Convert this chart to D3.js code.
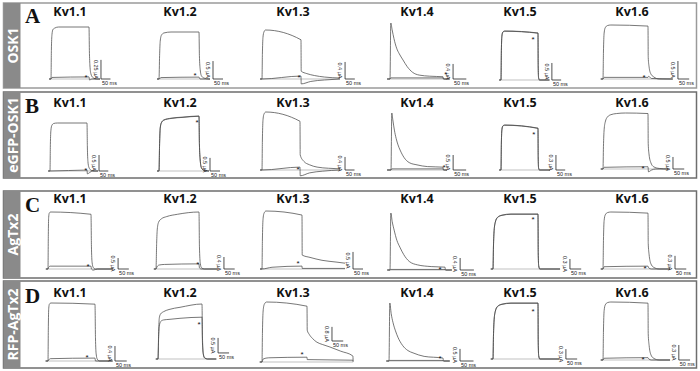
<!DOCTYPE html>
<html>
<head>
<meta charset="utf-8">
<script src="https://cdn.jsdelivr.net/npm/d3@7"></script>
<style>
  body { margin: 0; background: #fff; }
  svg { display: block; }
</style>
</head>
<body>
<svg id="chart" width="700" height="371"></svg>
<script>
// toxins (rows) and channels (columns)
const toxins = ["OSK1", "eGFP-OSK1", "AgTx2", "RFP-AgTx2"];
const letters = ["A", "B", "C", "D"];
const channels = ["Kv1.1", "Kv1.2", "Kv1.3", "Kv1.4", "Kv1.5", "Kv1.6"];

// peak control current (µA) per panel
const peakUA = [
  [0.68, 1.31, 1.15, 1.49, 1.44, 1.5],
  [1.5, 2.1, 1.78, 1.9, 0.9, 2.33],
  [2.6, 1.9, 1.7, 1.9, 1.65, 1.3],
  [1.55, 1.83, 3.4, 2.4, 1.7, 1.16]
];
// scale bar values (µA)
const barUA = [
  [0.25, 0.5, 0.4, 0.4, 0.5, 0.5],
  [0.5, 0.5, 0.4, 0.5, 0.3, 0.5],
  [0.5, 0.4, 0.5, 0.4, 0.3, 0.3],
  [0.4, 0.5, 0.8, 0.5, 0.3, 0.3]
];
const barMs = 50;

// control traces: [time ms from pulse onset, current / control peak]
const control = [
  [
    [[-10,0],[0,0],[2,0.55],[5,0.85],[10,0.95],[20,0.98],[40,1],[200,1],[202,0.55],[205,0.25],[210,0.1],[220,0.03],[240,0],[258,0]],
    [[-10,0],[0,0],[3,0.5],[6,0.8],[12,0.93],[25,0.98],[60,1],[200,1],[202,0.5],[206,0.2],[212,0.07],[225,0.02],[250,0],[255,0]],
    [[-10,0],[0,0],[2,0.5],[5,0.85],[10,0.96],[18,1],[200,0.8],[201,0.16],[230,0.11],[270,0.07],[320,0.04],[400,0.02]],
    [[-11,0],[0,0],[3,1],[8,0.88],[15,0.72],[25,0.55],[35,0.45],[49,0.34],[65,0.22],[85,0.12],[110,0.07],[150,0.05],[200,0.04],[202,0],[225,0]],
    [[-10,0],[0,0],[2,0.6],[5,0.9],[10,0.98],[20,1],[200,0.96],[201,0.3],[203,0.05],[208,0],[262,0]],
    [[-10,0],[0,0],[2,0.5],[5,0.85],[10,0.95],[20,0.99],[35,1],[200,0.98],[201,0.4],[205,0.22],[212,0.1],[225,0.04],[250,0],[310,0]]
  ],
  [
    [[-10,0],[0,0],[2,0.55],[5,0.85],[10,0.95],[20,0.99],[40,1],[200,1],[202,0.5],[205,0.2],[210,0.08],[220,0.02],[235,0],[260,0]],
    [[-10,0],[0,0],[3,0.5],[6,0.78],[12,0.88],[25,0.93],[60,0.96],[120,0.98],[200,1],[202,0.5],[206,0.2],[212,0.06],[225,0.01],[250,0]],
    [[-10,0],[0,0],[2,0.5],[5,0.85],[10,0.96],[20,1],[200,0.84],[201,0.26],[220,0.15],[250,0.09],[290,0.05],[350,0.03],[410,0.02]],
    [[-15,0],[0,0],[3,1],[7,0.88],[13,0.7],[20,0.55],[27,0.44],[35,0.35],[50,0.22],[70,0.13],[100,0.09],[140,0.06],[200,0.05],[202,0],[215,0]],
    [[-10,0],[0,0],[2,0.6],[5,0.9],[10,0.98],[20,1],[200,0.93],[201,0.3],[203,0.05],[208,0],[265,0]],
    [[-10,0],[0,0],[2,0.4],[5,0.7],[10,0.84],[20,0.93],[35,0.97],[60,0.99],[100,1],[200,0.99],[201,0.45],[205,0.25],[212,0.12],[225,0.04],[250,0.01],[290,0]]
  ],
  [
    [[-10,0],[0,0],[1.5,0.6],[3,0.9],[6,0.98],[12,1],[200,0.96],[202,0.4],[205,0.12],[210,0.03],[220,0],[300,0]],
    [[-10,0],[0,0],[3,0.45],[6,0.7],[12,0.82],[25,0.88],[50,0.92],[100,0.96],[200,1],[202,0.4],[206,0.1],[212,0.02],[225,0],[288,0]],
    [[-10,0],[0,0],[2,0.5],[5,0.85],[10,0.96],[20,1],[200,0.93],[201,0.24],[240,0.2],[300,0.15],[370,0.12],[415,0.1]],
    [[-10,0],[0,0],[3,1],[8,0.85],[15,0.7],[25,0.52],[36,0.4],[50,0.27],[70,0.15],[100,0.09],[150,0.06],[200,0.05],[202,0],[225,0]],
    [[-10,0],[0,0],[2,0.4],[5,0.7],[10,0.85],[20,0.94],[40,0.98],[80,1],[200,1],[201,0.3],[203,0.06],[208,0],[298,0]],
    [[-10,0],[0,0],[2,0.5],[5,0.85],[10,0.95],[20,0.99],[35,1],[200,0.98],[201,0.45],[205,0.25],[212,0.1],[225,0.03],[250,0],[298,0]]
  ],
  [
    [[-10,0],[0,0],[1.5,0.6],[3,0.9],[6,0.98],[12,1],[200,0.98],[202,0.4],[205,0.12],[210,0.03],[220,0],[275,0]],
    [[-10,0],[0,0],[3,0.5],[6,0.75],[12,0.82],[25,0.86],[50,0.9],[100,0.94],[200,1],[202,0.4],[206,0.1],[212,0.02],[225,0],[265,0]],
    [[-10,0],[0,0],[2,0.5],[5,0.85],[10,0.96],[20,1],[200,0.93],[201,0.53],[210,0.46],[225,0.39],[244,0.33],[270,0.29],[302,0.25],[350,0.18],[404,0.1],[405,0.02]],
    [[-10,0],[0,0],[3,1],[8,0.82],[15,0.66],[24,0.52],[33,0.41],[50,0.27],[70,0.18],[89,0.14],[130,0.08],[200,0.05],[202,0],[225,0]],
    [[-10,0],[0,0],[2,0.4],[5,0.7],[10,0.85],[20,0.94],[40,0.98],[80,1],[200,1],[201,0.3],[203,0.06],[208,0],[295,0]],
    [[-10,0],[0,0],[2,0.5],[5,0.85],[10,0.95],[20,0.99],[35,1],[200,0.98],[201,0.45],[205,0.25],[212,0.1],[225,0.03],[250,0],[298,0]]
  ]
];

// traces with toxin applied
const toxin = [
  [
    [[-10,0],[0,0],[5,0.03],[200,0.04],[203,-0.02],[215,0],[258,0]],
    [[-10,0],[0,0],[10,0.03],[200,0.04],[205,0],[255,0]],
    [[-10,0],[0,0],[200,0.06],[201,-0.1],[250,-0.05],[320,-0.02],[400,0]],
    [[-11,0],[0,0],[3,0.02],[200,0.02],[202,0],[225,0]],
    [[-10,0],[0,0],[2,0.6],[5,0.9],[10,0.975],[20,0.995],[200,0.955],[201,0.3],[203,0.05],[208,0],[262,0]],
    [[-10,0],[0,0],[5,0.03],[200,0.03],[203,0.05],[215,0.01],[310,0]]
  ],
  [
    [[-10,0],[0,0],[200,0.02],[202,-0.06],[215,-0.03],[230,0],[260,0]],
    [[-10,0],[0,0],[3,0.5],[6,0.775],[12,0.875],[25,0.925],[60,0.955],[120,0.975],[200,0.995],[202,0.5],[206,0.2],[212,0.06],[225,0.01],[250,0]],
    [[-10,0],[0,0],[200,0.05],[201,-0.1],[250,-0.05],[320,-0.02],[410,0]],
    [[-15,0],[0,0],[3,0.02],[200,0.02],[202,0],[215,0]],
    [[-10,0],[0,0],[2,0.6],[5,0.9],[10,0.975],[20,0.995],[200,0.925],[201,0.3],[203,0.05],[208,0],[265,0]],
    [[-10,0],[0,0],[5,0.03],[200,0.04],[202,-0.05],[215,-0.02],[235,0],[290,0]]
  ],
  [
    [[-10,0],[0,0],[3,0.03],[10,0.05],[200,0.05],[202,0],[210,-0.02],[230,0],[300,0]],
    [[-10,0],[0,0],[5,0.04],[15,0.07],[40,0.08],[200,0.09],[202,0.02],[210,0],[288,0]],
    [[-10,0],[0,0],[50,0.03],[200,0.05],[201,0.01],[415,0.01]],
    [[-10,0],[0,0],[3,0.01],[200,0.01],[202,0],[225,0]],
    [[-10,0],[0,0],[2,0.4],[5,0.7],[10,0.845],[20,0.935],[40,0.975],[80,0.995],[200,0.995],[201,0.3],[203,0.06],[208,0],[298,0]],
    [[-10,0],[0,0],[5,0.04],[200,0.05],[203,0.02],[215,0],[298,0]]
  ],
  [
    [[-10,0],[0,0],[3,0.02],[10,0.04],[200,0.05],[202,0],[275,0]],
    [[-10,0],[0,0],[3,0.4],[6,0.6],[12,0.68],[25,0.71],[50,0.72],[100,0.74],[200,0.76],[202,0.3],[206,0.08],[212,0.02],[225,0],[265,0]],
    [[-10,0],[0,0],[5,0.05],[30,0.07],[200,0.08],[201,0.04],[404,0.03],[405,0]],
    [[-10,0],[0,0],[3,0.01],[200,0.01],[202,0],[225,0]],
    [[-10,0],[0,0],[2,0.4],[5,0.7],[10,0.845],[20,0.935],[40,0.975],[80,0.995],[200,0.995],[201,0.3],[203,0.06],[208,0],[295,0]],
    [[-10,0],[0,0],[5,0.03],[200,0.04],[203,0.02],[215,0],[298,0]]
  ]
];

// asterisk marking the toxin trace: [time ms, current / control peak]
const stars = [
  [[184,0.06],[180,0.11],[190,0.06],[211,0.12],[173,0.86],[182,0.06]],
  [[194,0.06],[190,0.91],[190,0.05],[204,0.07],[178,0.84],[178,0.05]],
  [[186,0.07],[195,0.12],[180,0.12],[182,0.05],[178,0.93],[187,0.05]],
  [[166,0.09],[187,0.67],[178,0.15],[189,0.07],[178,0.875],[178,0.05]]
];

// scale bar anchor: [time ms, current / control peak]
const barAt = [
  [[263,0],[270,0],[426,0],[238,0],[275,0],[333,0]],
  [[265,0],[255,0],[437,0],[239,0],[297,0],[311,0]],
  [[326,0],[316,0],[455,0],[255,0],[342,0],[320,0]],
  [[285,0],[273,0.11],[311,0.35],[263,0],[324,0],[337,0]]
];

// layout (pixels): pulse start/end x, baseline y, control peak height
const pulseX0 = [
  [51, 159, 262, 390, 501, 603],
  [50, 159, 262, 391, 501, 603],
  [48, 156, 262, 390, 493, 603],
  [48, 158, 262, 389, 493, 603]
];
const pulseX1 = [
  [89, 199, 301, 443, 538, 648],
  [87, 199, 300, 443, 538, 648],
  [91, 199, 302, 445, 538, 648],
  [95, 202, 307, 443, 538, 648]
];
const baseY = [
  [79, 79, 79, 79, 80, 79],
  [171, 171, 170, 170, 170, 169],
  [269, 269, 269, 270, 269, 269],
  [361, 359, 362, 361, 359, 360]
];
const ampPx = [
  [52, 47, 49, 56, 49, 54],
  [48, 55, 58, 57, 45, 56],
  [57, 57, 58, 57, 55, 57],
  [58, 55, 60, 58, 56, 58]
];
const rowTop = [3, 92, 191, 281];
const rowBottom = [88, 178, 278, 368];
const titleX = [70, 180, 293, 417, 520, 632];
const titleY = [16, 107, 203, 297];
const letterY = [23, 113, 212, 303];

const svg = d3.select("#chart");
const traceColor = "#4a4a4a";

toxins.forEach((name, r) => {
  const g = svg.append("g");
  g.append("rect")
    .attr("x", 3.5).attr("y", rowTop[r])
    .attr("width", 693).attr("height", rowBottom[r] - rowTop[r])
    .attr("fill", "#fff")
    .attr("stroke", r === 0 ? "#9a9a9a" : "#6e6e6e")
    .attr("stroke-width", 1.5);
  g.append("rect")
    .attr("x", 3.5).attr("y", rowTop[r])
    .attr("width", 17).attr("height", rowBottom[r] - rowTop[r])
    .attr("fill", "#8a8a8a");
  const cy = (rowTop[r] + rowBottom[r]) / 2;
  g.append("text")
    .attr("transform", `translate(12.5,${cy}) rotate(-90)`)
    .attr("text-anchor", "middle")
    .attr("dominant-baseline", "central")
    .attr("fill", "#fff")
    .attr("font-family", "'Open Sans', sans-serif")
    .attr("font-weight", "bold")
    .attr("font-size", 14)
    .text(name);
  g.append("text")
    .attr("x", 25).attr("y", letterY[r])
    .attr("font-family", "'Liberation Serif', serif")
    .attr("font-weight", "bold")
    .attr("font-size", 21)
    .attr("fill", "#111")
    .text(letters[r]);

  channels.forEach((ch, c) => {
    g.append("text")
      .attr("x", titleX[c]).attr("y", titleY[r])
      .attr("text-anchor", "middle")
      .attr("font-family", "'Open Sans', sans-serif")
      .attr("font-weight", "bold")
      .attr("font-size", 12.5)
      .attr("fill", "#111")
      .text(ch);

    const x = d3.scaleLinear().domain([0, 200]).range([pulseX0[r][c], pulseX1[r][c]]);
    const y = d3.scaleLinear().domain([0, 1]).range([baseY[r][c], baseY[r][c] - ampPx[r][c]]);
    const line = d3.line()
      .x((d) => x(d[0]))
      .y((d) => y(d[1]))
      .curve(d3.curveMonotoneX);

    const ctl = control[r][c];
    // zero-current line
    g.append("line")
      .attr("x1", x(ctl[0][0])).attr("x2", x(ctl[ctl.length - 1][0]))
      .attr("y1", y(0)).attr("y2", y(0))
      .attr("stroke", "#999").attr("stroke-width", 0.6);

    g.append("path").datum(toxin[r][c])
      .attr("d", line)
      .attr("fill", "none")
      .attr("stroke", traceColor)
      .attr("stroke-width", 0.75);
    g.append("path").datum(ctl)
      .attr("d", line)
      .attr("fill", "none")
      .attr("stroke", traceColor)
      .attr("stroke-width", 0.75);

    const s = stars[r][c];
    g.append("text")
      .attr("x", x(s[0])).attr("y", y(s[1]))
      .attr("dy", "0.55em")
      .attr("text-anchor", "middle")
      .attr("font-family", "'Liberation Sans', sans-serif")
      .attr("font-size", 8)
      .attr("fill", "#111")
      .text("*");

    // scale bars
    const b = barAt[r][c];
    const bx = x(b[0]);
    const by = y(b[1]);
    const bh = y(0) - y(barUA[r][c] / peakUA[r][c]);
    const bw = x(barMs) - x(0);
    g.append("path")
      .attr("d", `M${bx},${by - bh}V${by}H${bx + bw}`)
      .attr("fill", "none")
      .attr("stroke", "#222")
      .attr("stroke-width", 0.8);
    g.append("text")
      .attr("transform", `translate(${bx - 7},${by - bh / 2}) rotate(90)`)
      .attr("text-anchor", "middle")
      .attr("font-family", "'Liberation Sans', sans-serif")
      .attr("font-size", 5.5)
      .attr("fill", "#222")
      .text(`${barUA[r][c]} µA`);
    g.append("text")
      .attr("x", bx + 1).attr("y", by + 6)
      .attr("font-family", "'Liberation Sans', sans-serif")
      .attr("font-size", 5.5)
      .attr("fill", "#222")
      .text(`${barMs} ms`);
  });
});
</script>
</body>
</html>
